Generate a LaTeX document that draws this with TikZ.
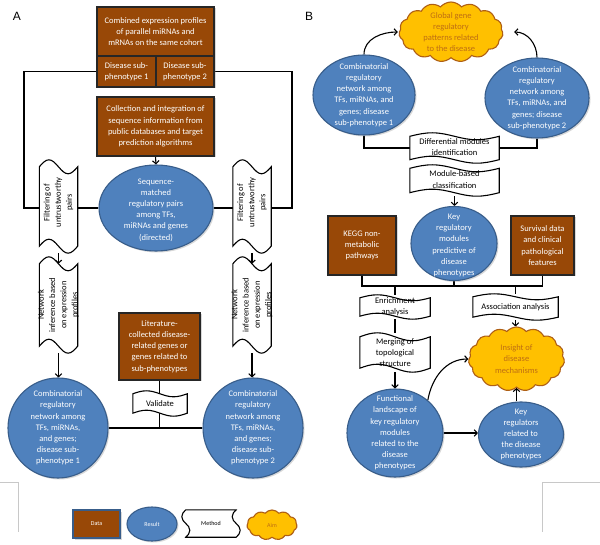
\documentclass[tikz,border=0pt]{standalone}
\usepackage{fontspec}
\setmainfont{Carlito}
\newfontfamily\lblfont{Liberation Sans}
\usetikzlibrary{shapes.geometric,shapes.symbols,arrows.meta,calc,shadows}
\definecolor{databrown}{RGB}{152,72,7}
\definecolor{resblue}{RGB}{79,129,189}
\definecolor{resedge}{RGB}{56,93,138}
\definecolor{aimfill}{RGB}{255,192,0}
\definecolor{aimedge}{RGB}{175,95,20}
\definecolor{aimtext}{RGB}{190,110,20}
\definecolor{cornergray}{RGB}{200,200,200}
\pgfdeclarelayer{bg}
\pgfsetlayers{bg,main}
\newcommand\mfs{\fontsize{8.5pt}{11.2pt}\selectfont}
\newcommand\lfs{\fontsize{6pt}{7pt}\selectfont}
\tikzset{
  conn/.style={line width=1.1pt, black},
  arr/.style={conn, -{Straight Barb[length=3pt,width=6.5pt]}},
  shad/.style={drop shadow={shadow xshift=1.5pt,shadow yshift=-1.5pt,opacity=0.3}},
  databox/.style 2 args={rectangle, draw=black!85, line width=1.1pt, fill=databrown, minimum width=#1pt, minimum height=#2pt, inner sep=0pt, shad},
  res/.style 2 args={ellipse, draw=resedge, line width=1.1pt, fill=resblue, minimum width=#1pt, minimum height=#2pt, inner sep=0pt, shad},
  aim/.style 2 args={cloud, cloud puffs=15, cloud puff arc=100, cloud ignores aspect, draw=aimedge, line width=1.1pt, fill=aimfill, minimum width=#1pt, minimum height=#2pt, inner sep=0pt},
  tapebox/.style 2 args={rectangle, minimum width=#1pt, minimum height=#2pt, inner sep=0pt},
  tapeline/.style={draw=black, line width=1.1pt, fill=white},
  wtxt/.style={text=white, align=center, font=\mfs, inner sep=0pt},
  btxt/.style={text=black, align=center, font=\mfs, inner sep=0pt},
  atxt/.style={text=aimtext, align=center, font=\mfs, inner sep=0pt},
}
% punched tape with wavy top and bottom edges: #1 node, #2 amplitude
\newcommand\tapeshape[2]{%
  \draw[tapeline] let \p1=(#1.south west), \p2=(#1.north east),
     \n1={(\x2-\x1)/4}, \n2={#2} in
     (\x1,\y2-\n2) sin (\x1+\n1,\y2) cos (\x1+2*\n1,\y2-\n2) sin (\x1+3*\n1,\y2-2*\n2) cos (\x2,\y2-\n2)
     -- (\x2,\y1+\n2) sin (\x2-\n1,\y1) cos (\x2-2*\n1,\y1+\n2) sin (\x2-3*\n1,\y1+2*\n2) cos (\x1,\y1+\n2) -- cycle;}
% punched tape with wavy left and right edges
\newcommand\vtapeshape[2]{%
  \draw[tapeline] let \p1=(#1.south west), \p2=(#1.north east),
     \n1={(\y2-\y1)/4}, \n2={#2} in
     (\x1+\n2,\y2) to[out=225,in=90] (\x1,\y2-\n1) to[out=270,in=135] (\x1+\n2,\y2-2*\n1)
       to[out=315,in=90] (\x1+2*\n2,\y2-3*\n1) to[out=270,in=45] (\x1+\n2,\y1)
     -- (\x2-\n2,\y1) to[out=45,in=270] (\x2,\y1+\n1) to[out=90,in=315] (\x2-\n2,\y1+2*\n1)
       to[out=135,in=270] (\x2-2*\n2,\y1+3*\n1) to[out=90,in=225] (\x2-\n2,\y2) -- cycle;}
\begin{document}
\begin{tikzpicture}[x=1pt,y=-1pt]
\useasboundingbox (0,0) rectangle (600,545);
\begin{pgfonlayer}{bg}
\fill[white] (0,0) rectangle (600,545);
\end{pgfonlayer}

% ---------------- Panel A ----------------
\node[font=\lblfont\fontsize{12pt}{14pt}\selectfont, inner sep=0pt] (labA) at (17,16) {A};
\node[databox={117}{49}] (comb) at (155.5,31.5) {};
\node[databox={59}{31}] (sub1) at (126.5,71.5) {};
\node[databox={58}{31}] (sub2) at (185,71.5) {};
\node[databox={117}{59}] (coll) at (155.5,126.5) {};
\node[res={114}{86}] (seq) at (156,208) {};
\node[tapebox={38}{93}] (filt1) at (58.5,206.5) {};
\node[tapebox={38}{93}] (filt2) at (252,206.5) {};
\node[tapebox={38}{96}] (net1) at (58.5,305) {};
\node[tapebox={38}{96}] (net2) at (252,305) {};
\node[res={100}{100}] (cmb1) at (58,428) {};
\node[res={100}{100}] (cmb2) at (253,428) {};
\node[databox={81}{67}] (lit) at (159.5,346.5) {};
\node[tapebox={54}{25}] (val) at (160,403.5) {};
\coordinate (cL) at (24,71.5);
\coordinate (cR) at (292,71.5);

% ---------------- Panel B ----------------
\node[font=\lblfont\fontsize{12pt}{14pt}\selectfont, inner sep=0pt] (labB) at (309,16) {B};
\node[aim={104}{60}] (glob) at (451,32) {};
\node[res={102}{80}] (netL) at (364,95) {};
\node[res={104}{80}] (netR) at (537,98) {};
\node[tapebox={89}{30}] (diff) at (454.5,148) {};
\node[tapebox={89}{31}] (modc) at (454.5,180.5) {};
\node[res={86}{74}] (keymod) at (454,243.5) {};
\node[databox={68}{59}] (kegg) at (362,245.5) {};
\node[databox={63}{59}] (surv) at (542.5,245.5) {};
\coordinate (hub) at (454,286);
\node[tapebox={70}{24}] (enr) at (395,307) {};
\node[tapebox={70}{39}] (merg) at (395,352.5) {};
\node[tapebox={85}{26}] (assoc) at (515.5,307) {};
\node[aim={96}{64}] (ins) at (516.5,359) {};
\node[res={96}{88}] (func) at (395,433) {};
\node[res={85}{65}] (keyreg) at (521,434.5) {};

% ---------------- Legend ----------------
\node[databox={47}{28}, draw=resedge] (legD) at (96.5,524) {};
\node[res={50}{34}] (legR) at (152,524) {};
\node[tapebox={58}{27}] (legM) at (211,523.5) {};
\node[aim={50}{30}, cloud puffs=11] (legA) at (272,525) {};
\coordinate (gl1) at (0,482);
\coordinate (gl2) at (18,482);
\coordinate (gl3) at (18,532);
\coordinate (gr1) at (600,482);
\coordinate (gr2) at (542,482);
\coordinate (gr3) at (542,532);

% ---------------- Connectors ----------------
\begin{pgfonlayer}{bg}
\draw[cornergray, line width=0.7pt] (gl1) -- (gl2) -- (gl3);
\draw[cornergray, line width=0.7pt] (gr1) -- (gr2) -- (gr3);
% A
\draw[conn] (sub1.west) -- (cL) |- (seq.west);
\draw[conn] (sub2.east) -- (cR) |- (seq.east);
\draw[arr] (coll.south) -- (seq.north);
\draw[arr] (filt1.south) -- ([yshift=-7pt]net1.north);
\draw[arr] (filt2.south) -- ([yshift=-7pt]net2.north);
\draw[arr] (net1.south) -- (net1.south |- cmb1.north);
\draw[arr] (net2.south) -- (net2.south |- cmb2.north);
\draw[conn] (cmb1.east) -- (cmb2.west);
\draw[conn] (lit.south) -- (lit.south |- cmb1.east);
% B
\draw[arr] (netL.north) to[out=90,in=180] ([xshift=-1pt]glob.west);
\draw[arr] (netR.north) to[out=90,in=0] ([xshift=11pt]glob.east);
\draw[conn] (netL.south) |- (diff.west);
\draw[conn] (netR.south) |- (diff.east);
\draw[arr] (modc.south) -- (modc.south |- keymod.north);
\draw[conn] (kegg.south) |- (hub) -| (surv.south);
\draw[conn] (keymod.south) -- (hub);
\draw[conn] (enr.north |- hub) -- (enr.north);
\draw[conn] (assoc.north |- hub) -- (assoc.north);
\draw[conn] (enr.south) -- (merg.north);
\draw[arr] (merg.south) -- (func.north);
\draw[arr] (assoc.south) -- (assoc.south |- ins.north);
\draw[arr] (func.east) -- (func.east -| keyreg.west);
\draw[arr] (keyreg.north -| ins.south) -- (ins.south);
\draw[arr] (func.45) to[out=80,in=180] (ins.west);
\end{pgfonlayer}

% ---------------- Tape shapes ----------------
\tapeshape{filt1}{7pt}
\tapeshape{filt2}{7pt}
\tapeshape{net1}{7pt}
\tapeshape{net2}{7pt}
\tapeshape{val}{3pt}
\tapeshape{diff}{3.5pt}
\tapeshape{modc}{3.5pt}
\tapeshape{enr}{3pt}
\tapeshape{merg}{4pt}
\tapeshape{assoc}{3pt}
\vtapeshape{legM}{4pt}

% ---------------- Texts ----------------
\node[wtxt] (comb-t) at (comb) {Combined expression profiles\\of parallel miRNAs and\\mRNAs on the same cohort};
\node[wtxt] (sub1-t) at (sub1) {Disease sub-\\phenotype 1};
\node[wtxt] (sub2-t) at (sub2) {Disease sub-\\phenotype 2};
\node[wtxt] (coll-t) at (coll) {Collection and integration of\\sequence information from\\public databases and target\\prediction algorithms};
\node[wtxt] (seq-t) at ([yshift=-2pt]seq) {Sequence-\\matched\\regulatory pairs\\among TFs,\\miRNAs and genes\\(directed)};
\node[btxt, rotate=90] (filt1-t) at ([yshift=4pt]filt1) {Filtering of\\untrustworthy\\pairs};
\node[btxt, rotate=90] (filt2-t) at ([yshift=4pt]filt2) {Filtering of\\untrustworthy\\pairs};
\node[btxt, rotate=90] (net1-t) at (net1) {Network\\inference based\\on expression\\profiles};
\node[btxt, rotate=90] (net2-t) at (net2) {Network\\inference based\\on expression\\profiles};
\node[wtxt] (cmb1-t) at (cmb1) {Combinatorial\\regulatory\\network among\\TFs, miRNAs,\\and genes;\\disease sub-\\phenotype 1};
\node[wtxt] (cmb2-t) at (cmb2) {Combinatorial\\regulatory\\network among\\TFs, miRNAs,\\and genes;\\disease sub-\\phenotype 2};
\node[wtxt] (lit-t) at (lit) {Literature-\\collected disease-\\related genes or\\genes related to\\sub-phenotypes};
\node[btxt] (val-t) at (val) {Validate};

\node[atxt] (glob-t) at (glob) {Global gene\\regulatory\\patterns related\\to the disease};
\node[wtxt] (netL-t) at (netL) {Combinatorial\\regulatory\\network among\\TFs, miRNAs, and\\genes; disease\\sub-phenotype 1};
\node[wtxt] (netR-t) at (netR) {Combinatorial\\regulatory\\network among\\TFs, miRNAs, and\\genes; disease\\sub-phenotype 2};
\node[btxt] (diff-t) at ([yshift=1pt]diff) {Differential modules\\identification};
\node[btxt] (modc-t) at ([yshift=1pt]modc) {Module-based\\classification};
\node[wtxt] (keymod-t) at ([yshift=-2pt]keymod) {Key\\regulatory\\modules\\predictive of\\disease\\phenotypes};
\node[wtxt] (kegg-t) at (kegg) {KEGG non-\\metabolic\\pathways};
\node[wtxt] (surv-t) at (surv) {Survival data\\and clinical\\pathological\\features};
\node[btxt] (enr-t) at (enr) {Enrichment\\analysis};
\node[btxt] (merg-t) at (merg) {Merging of\\topological\\structure};
\node[btxt] (assoc-t) at (assoc) {Association analysis};
\node[atxt] (ins-t) at (ins) {Insight of\\disease\\mechanisms};
\node[wtxt] (func-t) at (func) {Functional\\landscape of\\key regulatory\\modules\\related to the\\disease\\phenotypes};
\node[wtxt] (keyreg-t) at (keyreg) {Key\\regulators\\related to\\the disease\\phenotypes};

\node[wtxt, font=\lfs] (legD-t) at (legD) {Data};
\node[wtxt, font=\lfs] (legR-t) at (legR) {Result};
\node[btxt, font=\lfs] (legM-t) at (legM) {Method};
\node[atxt, font=\lfs] (legA-t) at (legA) {Aim};
\end{tikzpicture}
\end{document}
